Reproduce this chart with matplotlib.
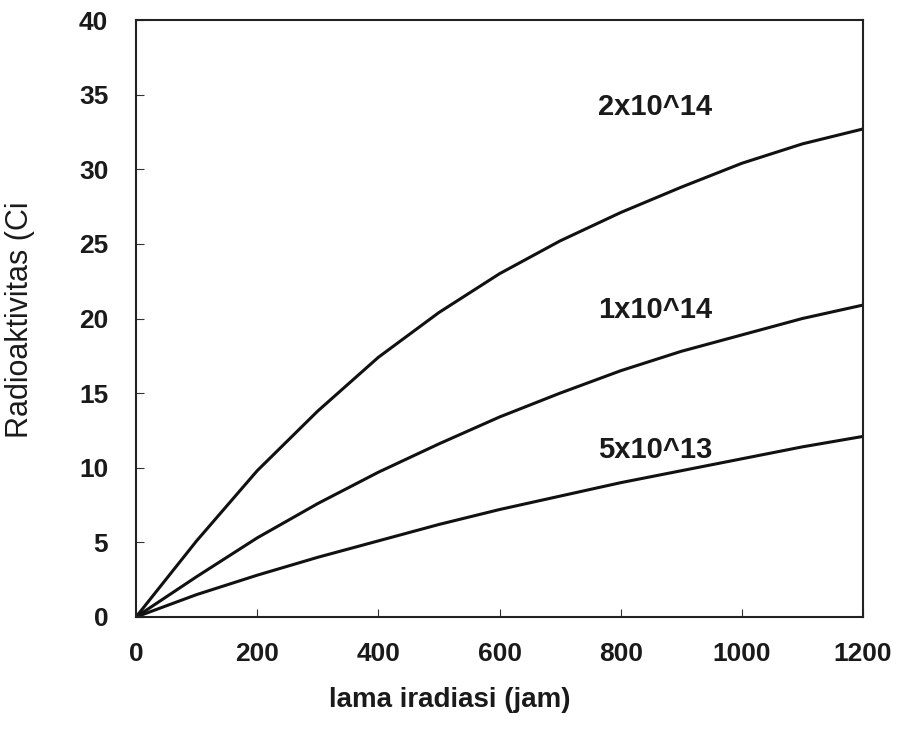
import matplotlib.pyplot as plt

# irradiation time (jam) and activity (Ci) for three neutron flux levels
hours = [0, 100, 200, 300, 400, 500, 600, 700, 800, 900, 1000, 1100, 1200]
act_2e14 = [0, 5.1, 9.8, 13.8, 17.4, 20.4, 23.0, 25.2, 27.1, 28.8, 30.4, 31.7, 32.7]
act_1e14 = [0, 2.7, 5.3, 7.6, 9.7, 11.6, 13.4, 15.0, 16.5, 17.8, 18.9, 20.0, 20.9]
act_5e13 = [0, 1.5, 2.8, 4.0, 5.1, 6.2, 7.2, 8.1, 9.0, 9.8, 10.6, 11.4, 12.1]

series = [act_2e14, act_1e14, act_5e13]
labels = ['2x10^14', '1x10^14', '5x10^13']
label_y = [34.2, 20.6, 11.2]

xticks = [0, 200, 400, 600, 800, 1000, 1200]
yticks = [0, 5, 10, 15, 20, 25, 30, 35, 40]

font = 'Liberation Sans'

fig = plt.figure(figsize=(9.11, 7.44), dpi=100)
ax = fig.add_axes([0.1493, 0.1707, 0.798, 0.8024])

for vals, lab, ly in zip(series, labels, label_y):
    ax.plot(hours, vals, color='#111111', lw=2.2)
    ax.text(763, ly, lab, fontsize=21, fontweight='bold', family=font,
            ha='left', va='center', color='#1a1a1a')

ax.set_xlim(0, 1200)
ax.set_ylim(0, 40)
ax.set_xticks(xticks)
ax.set_yticks(yticks)
ax.tick_params(direction='in', length=6, width=0.8, color='#333333')
ax.tick_params(axis='x', pad=18)
ax.tick_params(axis='y', pad=20)
for t in ax.get_xticklabels() + ax.get_yticklabels():
    t.set_fontfamily(font)
    t.set_fontweight('bold')
    t.set_fontsize(19)
    t.set_color('#1a1a1a')
for s in ax.spines.values():
    s.set_linewidth(1.5)
    s.set_color('#222222')

ax.set_xlabel('lama iradiasi (jam)', fontsize=20, fontweight='bold',
              family=font, color='#1a1a1a')
ax.xaxis.set_label_coords(0.432, -0.118)
ax.set_ylabel('Radioaktivitas (Ci', fontsize=22, family=font, color='#1a1a1a')
ax.yaxis.set_label_coords(-0.139, 0.4975)

fig.savefig('out.png', dpi=100)
